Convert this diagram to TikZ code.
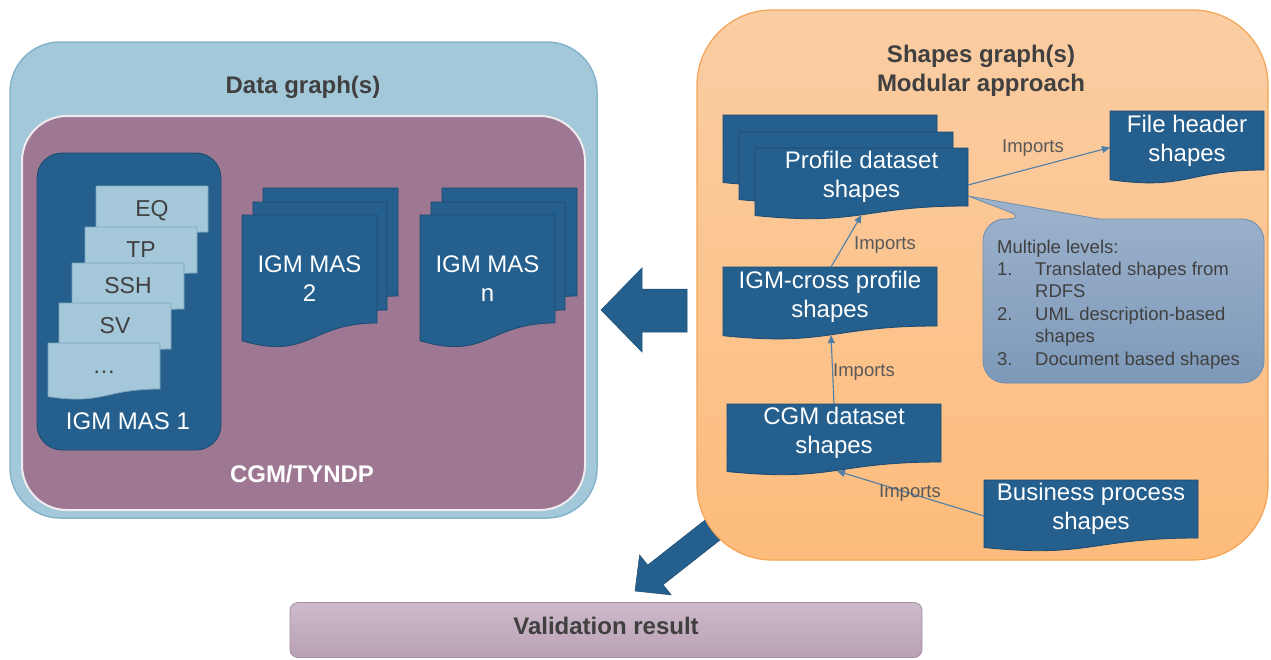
\documentclass[tikz,border=0pt]{standalone}
\usepackage{fontspec}
\setmainfont{Liberation Sans}
\usetikzlibrary{arrows.meta,calc}

\definecolor{dkblue}{HTML}{245F8D}
\definecolor{dkedge}{HTML}{1C4A70}
\definecolor{ltblue}{HTML}{A4C7D9}
\definecolor{ltedge}{HTML}{7FA3BA}
\definecolor{outerblue}{HTML}{A3C8DA}
\definecolor{outeredge}{HTML}{86B3CA}
\definecolor{plum}{HTML}{9E7893}
\definecolor{orangetop}{HTML}{FACDA3}
\definecolor{orangebot}{HTML}{FDBC7C}
\definecolor{orangeedge}{HTML}{F4A455}
\definecolor{calltop}{HTML}{9EB3CD}
\definecolor{callbot}{HTML}{7D99B9}
\definecolor{calledge}{HTML}{6E8DB0}
\definecolor{valtop}{HTML}{CDBBCA}
\definecolor{valbot}{HTML}{B9A0B4}
\definecolor{valedge}{HTML}{A58EA2}
\definecolor{txtgray}{HTML}{404040}
\definecolor{lblgray}{HTML}{595959}
\definecolor{linkblue}{HTML}{4D7FA8}

% Document symbol: a rectangle whose bottom edge is a wave hanging below it.
% The node box is the text area; the wave lies under its south side.
\makeatletter
\pgfdeclareshape{docwave}{%
  \inheritsavedanchors[from=rectangle]%
  \inheritanchorborder[from=rectangle]%
  \inheritanchor[from=rectangle]{center}%
  \inheritanchor[from=rectangle]{north}%
  \inheritanchor[from=rectangle]{south}%
  \inheritanchor[from=rectangle]{east}%
  \inheritanchor[from=rectangle]{west}%
  \inheritanchor[from=rectangle]{north east}%
  \inheritanchor[from=rectangle]{north west}%
  \inheritanchor[from=rectangle]{south east}%
  \inheritanchor[from=rectangle]{south west}%
  \inheritanchor[from=rectangle]{base}%
  \inheritanchor[from=rectangle]{mid}%
  % middle of the wavy bottom edge
  \anchor{ws}{%
    \southwest \pgf@xa=\pgf@x \pgf@ya=\pgf@y
    \northeast \pgf@xb=\pgf@x \pgf@yb=\pgf@y
    \pgf@x=.5\pgf@xa \advance\pgf@x by .5\pgf@xb
    \pgf@yc=\pgf@yb \advance\pgf@yc by -\pgf@ya
    \pgf@y=\pgf@ya \advance\pgf@y by -0.155\pgf@yc
  }%
  \backgroundpath{%
    \southwest \pgf@xa=\pgf@x \pgf@ya=\pgf@y
    \northeast \pgf@xb=\pgf@x \pgf@yb=\pgf@y
    \pgf@xc=.5\pgf@xa \advance\pgf@xc by .5\pgf@xb
    \pgf@yc=\pgf@yb \advance\pgf@yc by -\pgf@ya
    \edef\dw@l{\the\pgf@xa}\edef\dw@r{\the\pgf@xb}\edef\dw@m{\the\pgf@xc}%
    \edef\dw@t{\the\pgf@yb}\edef\dw@b{\the\pgf@ya}\edef\dw@h{\the\pgf@yc}%
    \pgfpathmoveto{\pgfqpoint{\dw@l}{\dw@t}}%
    \pgfpathlineto{\pgfqpoint{\dw@r}{\dw@t}}%
    \pgfpathlineto{\pgfqpoint{\dw@r}{\dw@b}}%
    \pgfpathcurveto{\pgfqpoint{\dw@m}{\dw@b}}%
      {\pgfpoint{\dw@m}{\dw@b-0.35*\dw@h}}%
      {\pgfpoint{\dw@l}{\dw@b-0.1646*\dw@h}}%
    \pgfpathclose
  }%
}
\makeatother

\begin{document}
\begin{tikzpicture}[x=1pt,y=-1pt,
  ddoc/.style={shape=docwave, fill=dkblue, draw=dkedge, line width=0.8pt,
    text=white, font=\fontsize{24}{29}\selectfont, align=center,
    inner sep=0pt, outer sep=0pt, anchor=north west},
  ldoc/.style={shape=docwave, fill=ltblue, draw=ltedge, line width=0.8pt,
    text=txtgray, font=\fontsize{23}{28}\selectfont, inner sep=0pt,
    outer sep=0pt, anchor=north west, minimum width=112pt,
    minimum height=46pt, text height=15pt, text depth=0pt},
  dsize/.style 2 args={minimum width=#1pt, minimum height=#2pt},
  wtext/.style={text=white, font=\fontsize{24}{29}\selectfont, align=center, inner sep=0pt},
  title/.style={text=txtgray, font=\bfseries\fontsize{24}{29}\selectfont, align=center, inner sep=0pt},
  imp/.style={text=lblgray, font=\fontsize{18.5}{22}\selectfont, inner sep=0pt},
  link/.style={draw=linkblue, line width=1.1pt, -{Triangle[length=8pt,width=7pt]}},
  blockarrow/.style={fill=dkblue, draw=dkedge, line width=0.5pt},
]
\useasboundingbox (0,0) rectangle (1271,659);

% ---------------- data graph container ----------------
\draw[fill=outerblue, draw=outeredge, line width=1.5pt, rounded corners=50pt]
  (10,42) rectangle (597,518);
\node[title] (dgt) at (303,87) {Data graph(s)};
\draw[fill=plum, draw=white!85!plum, line width=2pt, rounded corners=45pt]
  (22,116) rectangle (585,510);
\node[title, text=white] (cgmt) at (302,474) {CGM/TYNDP};

% IGM MAS 1 with its profile files
\draw[fill=dkblue, draw=dkedge, line width=0.8pt, rounded corners=25pt]
  (37,153) rectangle (221,450);
\node[ldoc] (eq)  at (96,186)  {EQ};
\node[ldoc] (tp)  at (85,227)  {TP};
\node[ldoc] (ssh) at (72,263)  {SSH};
\node[ldoc] (sv)  at (59,303)  {SV};
\node[ldoc] (etc) at (48,343)  {…};
\node[wtext] (m1t) at (128,421) {IGM MAS 1};

% IGM MAS 2 stack
\node[ddoc, dsize={135}{108}] (m2c) at (263,188) {};
\node[ddoc, dsize={134}{108}] (m2b) at (253,202) {};
\node[ddoc, dsize={135}{108}] (m2a) at (242,215) {};
\node[wtext] (m2t) at (309.5,279) {IGM MAS\\2};

% IGM MAS n stack
\node[ddoc, dsize={135}{108}] (mnc) at (442,188) {};
\node[ddoc, dsize={134}{108}] (mnb) at (431,202) {};
\node[ddoc, dsize={135}{108}] (mna) at (420,215) {};
\node[wtext] (mnt) at (487.5,279) {IGM MAS\\n};

% block arrow pointing at the data graphs
\draw[blockarrow] (601,310) -- (642,268) -- (642,289) -- (687,289)
  -- (687,332) -- (642,332) -- (642,352) -- cycle;

% block arrow down to the result (its tail runs under the shapes box)
\draw[blockarrow] (635,591) -- (639.6,554.9) -- (647.7,565.1) -- (709.8,516.3)
  -- (725.2,535.9) -- (663.1,584.7) -- (671.2,594.9) -- cycle;

% ---------------- shapes graph container ----------------
\shade[top color=orangetop, bottom color=orangebot, draw=orangeedge,
  line width=1.2pt, rounded corners=75pt] (697,10) rectangle (1268,560);
\node[title] (sgt) at (981,71) {Shapes graph(s)\\Modular approach};

\node[ddoc, dsize={214}{58}] (prof3) at (723,115) {};
\node[ddoc, dsize={214}{58}] (prof2) at (739,132) {};
\node[ddoc, dsize={213}{58}] (prof1) at (755,148) {Profile dataset\\shapes};
\node[ddoc, dsize={154}{59}] (fh)    at (1110,111) {File header\\shapes};
\node[ddoc, dsize={214}{59}] (igmx)  at (723,267) {IGM-cross profile\\shapes};
\node[ddoc, dsize={214}{58}] (cgm)   at (727,404) {CGM dataset\\shapes};
\node[ddoc, dsize={214}{58}] (bp)    at (984,480) {Business process\\shapes};

% import relations
\draw[link] ([yshift=-8pt]prof1.east) -- ([yshift=-7pt]fh.west);
\draw[link] ([xshift=1pt]igmx.north) -- (prof1.ws);
\draw[link] (cgm.north) -- ([xshift=1pt]igmx.ws);
\draw[link] ([yshift=-7pt]bp.west) -- ([xshift=3pt]cgm.ws);
\node[imp] (i1) at (1033,148) {Imports};
\node[imp] (i2) at (885,245) {Imports};
\node[imp] (i3) at (864,372) {Imports};
\node[imp] (i4) at (910,493) {Imports};

% callout with the shape levels
\coordinate (tip) at ([yshift=-19pt]prof1.east);
\shade[top color=calltop, bottom color=callbot, draw=calledge, line width=0.8pt]
  (983,300) [rounded corners=22pt] |- (1028,219) [sharp corners] -- (tip)
  -- (1099,219) [rounded corners=22pt] -| (1264,300) |- (983,383) -- cycle;
\node[anchor=north west, inner sep=0pt, align=left, text=txtgray,
  font=\fontsize{18.5}{22.4}\selectfont] (levels) at (997,239.5)
  {Multiple levels:\\
   \makebox[38pt][l]{1.}Translated shapes from\\
   \hspace*{38pt}RDFS\\
   \makebox[38pt][l]{2.}UML description-based\\
   \hspace*{38pt}shapes\\
   \makebox[38pt][l]{3.}Document based shapes};

% ---------------- result ----------------
\node[top color=valtop, bottom color=valbot, draw=valedge, line width=0.8pt,
  rounded corners=8pt, minimum width=632pt, minimum height=55pt,
  text=txtgray, font=\bfseries\fontsize{24}{29}\selectfont, text depth=8pt]
  (val) at (606,630) {Validation result};
\end{tikzpicture}
\end{document}
